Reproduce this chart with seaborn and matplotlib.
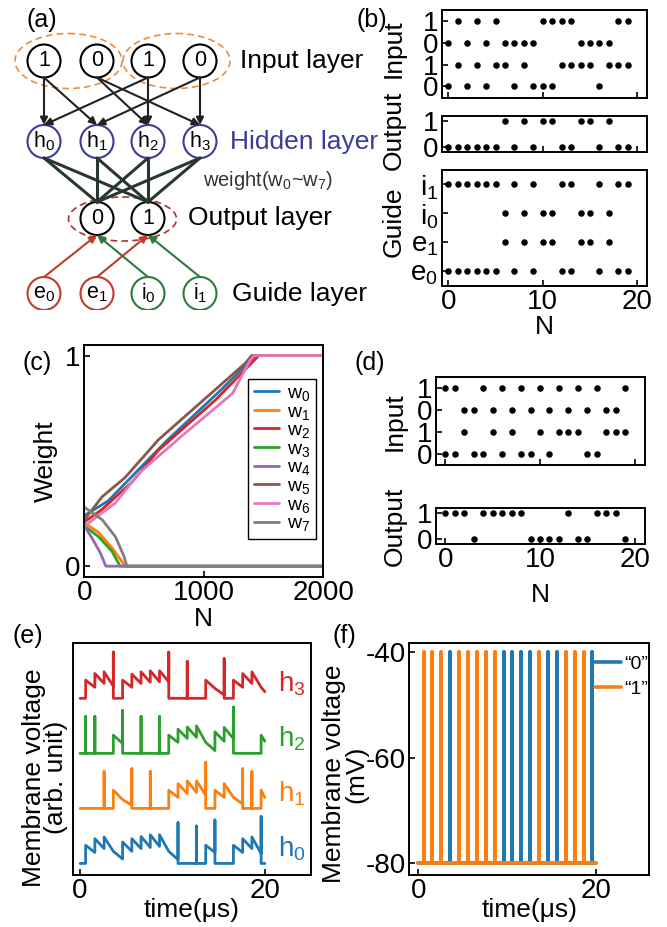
import numpy as np
import pandas as pd
import seaborn as sns
import matplotlib.pyplot as plt
from matplotlib.patches import Circle, Ellipse

# ---------------- data ----------------
# (b) raster of the training run, rows listed bottom -> top
b_in_r0 = [0, 2, 4, 7, 9, 10, 11, 16]
b_in_r1 = [1, 3, 5, 6, 8, 12, 13, 14, 15, 17, 18, 19]
b_in_r2 = [0, 2, 4, 6, 7, 8, 9, 14, 15, 16, 17]
b_in_r3 = [1, 3, 5, 10, 11, 12, 13, 18, 19]
b_out_0 = [0, 1, 2, 3, 4, 5, 7, 9, 12, 13, 16, 18, 19]
b_out_1 = [6, 8, 10, 11, 14, 15, 17]
b_e0 = [0, 1, 2, 3, 4, 5, 7, 9, 12, 13, 16, 18, 19]
b_e1 = [6, 8, 10, 11, 14, 15, 17]
b_i0 = [6, 8, 10, 11, 14, 15, 17]
b_i1 = [0, 1, 2, 3, 4, 5, 7, 9, 12, 13, 16, 18, 19]
input_labels = ['0', '1', '0', '1']
output_labels = ['0', '1']
guide_labels = ['e$_0$', 'e$_1$', 'i$_0$', 'i$_1$']

# (d) raster of the test run
d_in_r0 = [0, 1, 3, 4, 6, 8, 9, 11, 15, 16]
d_in_r1 = [2, 5, 7, 10, 12, 13, 14, 17, 18, 19]
d_in_r2 = [2, 3, 5, 7, 9, 11, 13, 15, 17, 18]
d_in_r3 = [0, 1, 4, 6, 8, 10, 12, 14, 16, 19]
d_out_0 = [3, 9, 10, 11, 12, 14, 15, 19]
d_out_1 = [0, 1, 2, 4, 5, 6, 7, 8, 13, 16, 17, 18]

# (c) weight evolution, breakpoints
w0_n = [0, 200, 680, 1150, 1430, 2000]
w0_w = [0.24, 0.31, 0.59, 0.84, 1.0, 1.0]
w1_n = [0, 120, 232, 330, 338, 2000]
w1_w = [0.205, 0.16, 0.087, 0.01, 0.0, 0.0]
w2_n = [0, 150, 400, 620, 1100, 1460, 2000]
w2_w = [0.21, 0.27, 0.40, 0.55, 0.79, 1.0, 1.0]
w3_n = [0, 120, 232, 300, 2000]
w3_w = [0.19, 0.14, 0.07, 0.0, 0.0]
w4_n = [0, 64, 134, 180, 2000]
w4_w = [0.19, 0.134, 0.063, 0.0, 0.0]
w5_n = [0, 150, 340, 620, 1100, 1350, 1400, 2000]
w5_w = [0.22, 0.33, 0.42, 0.60, 0.84, 0.965, 1.0, 1.0]
w6_n = [0, 260, 455, 820, 1240, 1390, 1420, 2000]
w6_w = [0.19, 0.30, 0.44, 0.62, 0.82, 0.98, 1.0, 1.0]
w7_n = [0, 150, 260, 330, 357, 2000]
w7_w = [0.28, 0.22, 0.14, 0.05, 0.0, 0.0]

# (e) hidden neuron potentials: value just before / after each step
step_t = [0.6, 1.6, 2.6, 3.6, 4.6, 5.6, 6.6, 7.6, 8.6, 9.6,
          10.6, 11.6, 12.6, 13.6, 14.6, 15.6, 16.6, 17.6, 18.6, 19.6]
h0_lo = [0, .20, .27, .22, .08, .22, .27, .29, .31, .22, .07, 0, 0, 0, .20, 0, 0, .20, .27, .18]
h0_hi = [.33, .45, .48, .22, .39, .45, .49, .52, .52, .22, .74, 0, .68, .33, .79, 0, .33, .45, .48, .85]
h0_end = 0.0
h1_lo = [0, 0, 0, 0, .16, .06, 0, 0, 0, 0, .20, .27, .29, .24, 0, .20, .20, .08, 0, 0]
h1_hi = [0, 0, .67, .33, .16, .72, 0, .67, 0, .33, .45, .50, .50, .84, .33, .45, .20, .72, .67, .33]
h1_end = 0.20
h2_lo = [0, 0, 0, 0, .18, 0, 0, 0, 0, 0, .20, .27, .29, .20, .05, .22, .27, 0, 0, 0]
h2_hi = [.67, .67, 0, .33, .78, 0, .67, 0, .67, .33, .44, .48, .50, .20, .39, .47, .84, 0, 0, .33]
h2_end = 0.22
h3_lo = [0, .20, .27, .22, 0, .20, .27, .29, .30, .30, 0, 0, 0, 0, .18, .06, 0, .20, .27, .20]
h3_hi = [.33, .45, .48, .84, .33, .44, .48, .50, .50, .84, 0, .67, 0, .33, .18, .72, .33, .45, .48, .20]
h3_end = 0.12

# (f) output neuron spikes
spikes_0 = [3.6, 9.6, 10.6, 11.6, 12.6, 14.6, 15.6, 19.6]
spikes_1 = [0.6, 1.6, 2.6, 4.6, 5.6, 6.6, 7.6, 8.6, 13.6, 16.6, 17.6, 18.6]

# (a) network sketch
node_x = [44, 97, 148, 200]
output_x = [97, 148]
layer_y = {'input': 61, 'hidden': 141.5, 'output': 218.5, 'guide': 293.5}
input_text = ['1', '0', '1', '0']
hidden_text = ['h$_0$', 'h$_1$', 'h$_2$', 'h$_3$']
output_text = ['0', '1']
guide_text = ['e$_0$', 'e$_1$', 'i$_0$', 'i$_1$']
in_to_hid = [(0, 0), (0, 1), (1, 2), (1, 3), (2, 0), (2, 2), (3, 1), (3, 3)]
guide_to_out = [(0, 0), (1, 1), (2, 0), (3, 1)]

# ---------------- style ----------------
sns.set_theme(style='ticks', rc={
    'axes.edgecolor': 'black', 'axes.linewidth': 1.4,
    'xtick.direction': 'in', 'ytick.direction': 'in',
    'xtick.major.size': 4.5, 'ytick.major.size': 4.5,
    'xtick.major.width': 1.2, 'ytick.major.width': 1.2,
    'xtick.major.pad': 2.5, 'ytick.major.pad': 2.5,
    'xtick.labelsize': 20, 'ytick.labelsize': 20,
    'axes.labelsize': 19, 'xtick.color': 'black', 'ytick.color': 'black',
    'text.color': 'black', 'axes.labelcolor': 'black'})
plt.rcParams['font.family'] = ['Liberation Sans', 'DejaVu Sans']
plt.rcParams['mathtext.fontset'] = 'custom'
plt.rcParams['mathtext.rm'] = 'Liberation Sans'
plt.rcParams['mathtext.it'] = 'Liberation Sans:italic'
plt.rcParams['axes.unicode_minus'] = False

W, H = 667, 927
fig = plt.figure(figsize=(W / 100, H / 100), dpi=100)


def rect(l, t, r, b):
    return [l / W, 1 - b / H, (r - l) / W, (b - t) / H]


tab = sns.color_palette('tab10')


def raster(ax, rows, labels, ylim, xlim):
    df = pd.concat([pd.DataFrame({'N': r, 'row': i}) for i, r in enumerate(rows)])
    sns.scatterplot(data=df, x='N', y='row', color='black', s=22,
                    linewidth=0, ax=ax, legend=False)
    ax.set_yticks(range(len(rows)))
    ax.set_yticklabels(labels)
    ax.set_xticks([0, 10, 20])
    ax.set_xlim(xlim)
    ax.set_ylim(ylim)
    ax.set_xlabel('')
    ax.set_ylabel('')


# ---------------- (a) ----------------
ax = fig.add_axes(rect(0, 0, 380, 310))
ax.set_xlim(0, 380)
ax.set_ylim(310, 0)
ax.axis('off')
r = 16.5
blue_node = '#3b3b9a'
red_node = '#c23a2a'
green_node = '#2e7a3c'


def node(x, y, txt, color):
    ax.add_patch(Circle((x, y), r, fill=False, ec=color, lw=1.5))
    ax.text(x, y, txt, ha='center', va='center', fontsize=15.5, color='black')


def arrow(x0, y0, x1, y1, color):
    ax.annotate('', xy=(x1, y1), xytext=(x0, y0),
                arrowprops=dict(arrowstyle='-|>', color=color, lw=1.5,
                                mutation_scale=11, shrinkA=0, shrinkB=0))


yi, yh, yo, yg = layer_y['input'], layer_y['hidden'], layer_y['output'], layer_y['guide']
for s, d in in_to_hid:
    arrow(node_x[s], yi + r, node_x[d], yh - r, '#222222')
for hx in node_x:
    for ox in output_x:
        ax.plot([hx, ox], [yh + r, yo - r], color='#27392f', lw=2.2, solid_capstyle='round')
for s, d in guide_to_out:
    arrow(node_x[s], yg - r, output_x[d], yo + r, red_node if s < 2 else green_node)

for x, t in zip(node_x, input_text):
    node(x, yi, t, 'black')
for x, t in zip(node_x, hidden_text):
    node(x, yh, t, blue_node)
for x, t in zip(output_x, output_text):
    node(x, yo, t, 'black')
for i, (x, t) in enumerate(zip(node_x, guide_text)):
    node(x, yg, t, red_node if i < 2 else green_node)

ax.add_patch(Ellipse((68.5, yi), 107, 55, fill=False, ec='#f08a3c', lw=1.2, ls=(0, (4, 2.5))))
ax.add_patch(Ellipse((176.5, yi), 107, 55, fill=False, ec='#f08a3c', lw=1.2, ls=(0, (4, 2.5))))
ax.add_patch(Ellipse((122.5, yo + 0.5), 108, 44, fill=False, ec='#a83232', lw=1.2, ls=(0, (4, 2.5))))

ax.text(240, yi, 'Input layer', fontsize=19, va='center')
ax.text(230, yh, 'Hidden layer', fontsize=19, va='center', color=blue_node)
ax.text(203, 180, 'weight(w$_0$~w$_7$)', fontsize=14.5, va='center', color='#333333')
ax.text(188, yo, 'Output layer', fontsize=19, va='center')
ax.text(232, yg, 'Guide layer', fontsize=19, va='center')

# ---------------- (b) ----------------
ax_bi = fig.add_axes(rect(441.7, 10, 646.7, 97.7))
raster(ax_bi, [b_in_r0, b_in_r1, b_in_r2, b_in_r3], input_labels, (-0.52, 3.5), (-0.7, 21))
ax_bi.set_xticklabels([])
ax_bi.set_ylabel('Input')
ax_bi.yaxis.set_label_coords(-0.175, 0.56)

ax_bo = fig.add_axes(rect(441.7, 115.7, 646.7, 152.3))
raster(ax_bo, [b_out_0, b_out_1], output_labels, (-0.22, 1.2), (-0.7, 21))
ax_bo.set_xticklabels([])
ax_bo.set_ylabel('Output')
ax_bo.yaxis.set_label_coords(-0.175, 0.6)

ax_bg = fig.add_axes(rect(441.7, 170, 646.7, 286))
raster(ax_bg, [b_e0, b_e1, b_i0, b_i1], guide_labels, (-0.52, 3.5), (-0.7, 21))
ax_bg.set_ylabel('Guide')
ax_bg.yaxis.set_label_coords(-0.175, 0.55)
ax_bg.set_xlabel('N', labelpad=0)
ax_bg.xaxis.set_label_coords(0.5, -0.25)

# ---------------- (c) ----------------
ax_c = fig.add_axes(rect(84.3, 345, 323.3, 576.7))
w_lists = [(w0_n, w0_w), (w1_n, w1_w), (w2_n, w2_w), (w3_n, w3_w),
           (w4_n, w4_w), (w5_n, w5_w), (w6_n, w6_w), (w7_n, w7_w)]
w_names = ['w$_%d$' % i for i in range(8)]
w_colors = [tab[0], tab[1], tab[3], tab[2], tab[4], tab[5], tab[6], tab[7]]
df_w = pd.concat([pd.DataFrame({'N': n, 'W': w, 'name': nm})
                  for (n, w), nm in zip(w_lists, w_names)])
sns.lineplot(data=df_w, x='N', y='W', hue='name', hue_order=w_names,
             palette=w_colors, sort=False, estimator=None, lw=2.0, ax=ax_c)
ax_c.set_xlim(0, 2000)
ax_c.set_ylim(-0.05, 1.05)
ax_c.set_xticks([0, 1000, 2000])
ax_c.set_yticks([0, 1])
ax_c.set_xlabel('N')
ax_c.set_ylabel('Weight')
ax_c.xaxis.set_label_coords(0.5, -0.13)
ax_c.yaxis.set_label_coords(-0.11, 0.5)
hd, lb = ax_c.get_legend_handles_labels()
leg = ax_c.legend(hd, lb, loc='upper right', bbox_to_anchor=(0.97, 0.855), fontsize=14,
                  frameon=True, fancybox=False, edgecolor='black', framealpha=1,
                  handlelength=1.3, handletextpad=0.4, labelspacing=0.0,
                  borderpad=0.3, borderaxespad=0)
leg.get_frame().set_linewidth(1.0)

# ---------------- (d) ----------------
ax_di = fig.add_axes(rect(436, 377.3, 645, 465))
raster(ax_di, [d_in_r0, d_in_r1, d_in_r2, d_in_r3], input_labels, (-0.52, 3.5), (-1, 21.1))
ax_di.set_xticklabels([])
ax_di.set_ylabel('Input')
ax_di.yaxis.set_label_coords(-0.14, 0.5)

ax_do = fig.add_axes(rect(436, 508.3, 645, 544))
raster(ax_do, [d_out_0, d_out_1], output_labels, (-0.2, 1.19), (-1, 21.1))
ax_do.set_ylabel('Output')
ax_do.yaxis.set_label_coords(-0.14, 0.5)
ax_do.set_xlabel('N')
ax_do.xaxis.set_label_coords(0.5, -1.08)

# ---------------- (e) ----------------
ax_e = fig.add_axes(rect(72.7, 642.7, 311, 875))
traces = [(h0_lo, h0_hi, h0_end), (h1_lo, h1_hi, h1_end),
          (h2_lo, h2_hi, h2_end), (h3_lo, h3_hi, h3_end)]
h_colors = [tab[0], tab[1], tab[2], tab[3]]
for k, (lo, hi, end) in enumerate(traces):
    t, v = [0.0], [0.0]
    for tk, a, b in zip(step_t, lo, hi):
        t += [tk, tk]
        v += [a, b]
        if b > 0.6:
            t.append(tk)
            v.append(0.0)
    t.append(20.0)
    v.append(end)
    sns.lineplot(x=t, y=np.array(v) + k, sort=False, estimator=None,
                 color=h_colors[k], lw=2.0, ax=ax_e)
    ax_e.text(21.4, k + 0.12, 'h$_%d$' % k, color=h_colors[k], fontsize=20, va='baseline')
ax_e.set_xlim(-0.8, 25)
ax_e.set_ylim(-0.21, 4.01)
ax_e.set_xticks([0, 20])
ax_e.set_yticks([])
ax_e.set_xlabel('time(μs)')
ax_e.set_ylabel('Membrane voltage\n(arb. unit)', linespacing=0.9)
ax_e.xaxis.set_label_coords(0.5, -0.1)
ax_e.yaxis.set_label_coords(-0.02, 0.42)

# ---------------- (f) ----------------
ax_f = fig.add_axes(rect(409.3, 642.7, 649.3, 875))
for spikes, c, lab in [(spikes_0, tab[0], '\u201c0\u201d'), (spikes_1, tab[1], '\u201c1\u201d')]:
    t, v = [0.0], [-80.0]
    for s in spikes:
        t += [s, s, s]
        v += [-80.0, -40.0, -80.0]
    t.append(20.0)
    v.append(-80.0)
    sns.lineplot(x=t, y=v, sort=False, estimator=None, color=c, lw=2.6, ax=ax_f, label=lab)
ax_f.set_xlim(-1, 26)
ax_f.set_ylim(-82.2, -38.2)
ax_f.set_xticks([0, 20])
ax_f.set_yticks([-80, -60, -40])
ax_f.set_xlabel('time(μs)')
ax_f.set_ylabel('Membrane voltage\n(mV)', linespacing=0.9)
ax_f.xaxis.set_label_coords(0.5, -0.1)
ax_f.yaxis.set_label_coords(-0.17, 0.435)
ax_f.legend(loc='upper left', bbox_to_anchor=(0.775, 0.945), frameon=False, fontsize=14,
            handlelength=1.3, handletextpad=0.2, borderpad=0, borderaxespad=0,
            labelspacing=0.35)

# ---------------- panel letters ----------------
for txt, x, y in [('(a)', 27, 20), ('(b)', 357, 20), ('(c)', 23, 363),
                  ('(d)', 355, 363), ('(e)', 13, 636), ('(f)', 332, 636)]:
    fig.text(x / W, 1 - y / H, txt, fontsize=18, va='center', ha='left')

fig.savefig('out.png', dpi=100)
